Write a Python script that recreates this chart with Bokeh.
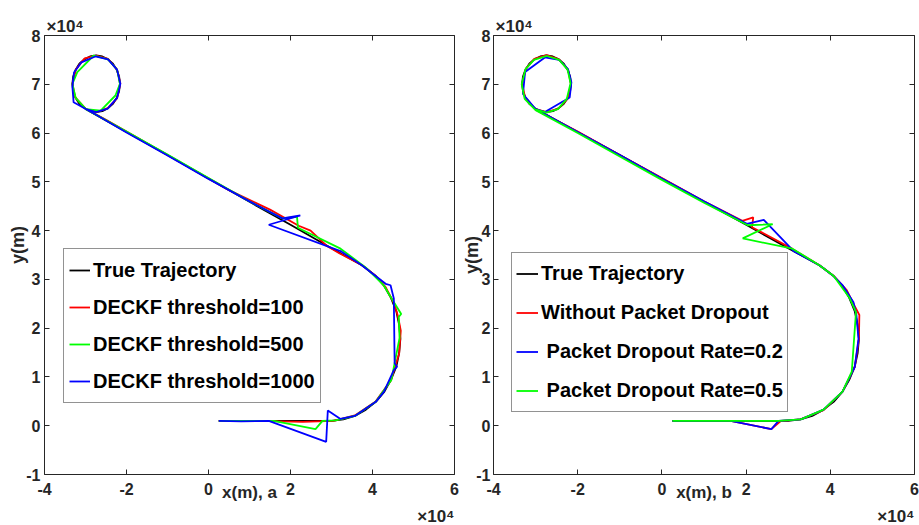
from bokeh.embed import file_html
from bokeh.layouts import row
from bokeh.models import FixedTicker, Legend, LegendItem, LinearAxis, Range1d, Title
from bokeh.plotting import figure
from bokeh.resources import INLINE

# ---------------------------------------------------------------- data (m)
x_ticks = [-40000, -20000, 0, 20000, 40000, 60000]
x_tick_labels = ["-4", "-2", "0", "2", "4", "6"]
y_ticks = [-10000, 0, 10000, 20000, 30000, 40000, 50000, 60000, 70000, 80000]
y_tick_labels = ["-1", "0", "1", "2", "3", "4", "5", "6", "7", "8"]

# true target path: eastbound leg, left turn, north-west leg, closing loop
true_x = [2500, 10000, 20000, 30000, 32900, 35700, 38400, 40800, 42900, 44500,
          45800, 46500, 46800, 46500, 45800, 44500, 42900, 40800, 38400, 37300,
          30000, 20000, 10000, 0, -10000, -20000, -29900,
          -31500, -32400, -33000, -33200, -33000, -32400, -31500, -30300, -28900,
          -27400, -25900, -24500, -23300, -22400, -21800, -21600, -21800, -22400,
          -23300, -24500, -25900, -27400, -28900, -29900]
true_y = [1000, 1000, 1000, 1000, 1300, 2000, 3300, 4900, 7000, 9400,
          12100, 14900, 17800, 20700, 23500, 26200, 28600, 30700, 32300, 32950,
          36400, 41200, 45900, 50700, 55500, 60200, 64900,
          66000, 67200, 68600, 70100, 71600, 73000, 74200, 75100, 75700,
          75900, 75700, 75100, 74200, 73000, 71600, 70100, 68600, 67200,
          66000, 65100, 64500, 64300, 64500, 64900]

# (a) DECKF with event-trigger thresholds
a_t100_x = [2500, 12000, 23000, 30500, 35700, 40700, 44500, 46500, 46900, 46200,
            45300, 43200, 40800, 37500, 32000, 28800, 24900, 22000, 15000, 5000,
            -5000, -15000, -25000, -30000, -32500, -33200, -32300, -30200, -27400,
            -24500, -22300, -21500, -22300, -24600, -27400, -29900]
a_t100_y = [1000, 1000, 800, 1000, 2100, 4900, 9300, 14800, 19500, 22500,
            25000, 28400, 30700, 32900, 35300, 36900, 40000, 41000, 44300, 48300,
            53100, 57900, 62700, 65000, 67300, 70100, 73100, 75300, 75900,
            75200, 73000, 70200, 67100, 65100, 64300, 64900]

a_t500_x = [2500, 15900, 26100, 27800, 31000, 35700, 40800, 44600, 46600, 46400,
            47000, 45600, 44500, 42800, 38400, 32200, 21800, 21600, 18000, 10000,
            0, -10000, -20000, -29900, -32400, -33200, -32000, -28000, -24500,
            -22300, -21600, -22700, -26300, -29900]
a_t500_y = [1000, 1000, -700, 1000, 1100, 2000, 4900, 9400, 18000, 22300,
            22900, 24800, 26300, 28700, 32400, 36300, 40600, 42800, 42500, 46000,
            50800, 55600, 60300, 64900, 67200, 70100, 72500, 75900, 75100,
            73000, 70100, 67700, 64600, 64900]

a_t1000_x = [2500, 8000, 14700, 28700, 29100, 32200, 35700, 40800, 42800, 45200,
             46000, 45400, 45200, 44400, 43200, 40600, 37400, 32200, 14700, 22400,
             18000, 10000, 0, -10000, -20000, -27100, -32900, -33200, -32800,
             -31000, -27600, -24500, -22300, -21500, -22300, -24600, -27400, -29900]
a_t1000_y = [1000, 900, 1000, -3300, 3100, 1400, 2000, 4900, 7000, 11400,
             12100, 12800, 26100, 28800, 29100, 30800, 32900, 35800, 41200, 43100,
             42500, 46000, 50600, 55400, 60100, 63600, 66300, 69500, 72400,
             74500, 75700, 75100, 73000, 70100, 67200, 65000, 64300, 64900]

# (b) DECKF under packet dropout
b_full_x = [2500, 10000, 16300, 26000, 28300, 32900, 38400, 42900, 45800, 46800,
            46900, 45800, 43900, 40800, 37400, 30900, 21400, 21700, 19100, 10000,
            0, -10000, -20000, -30000, -32500, -33200, -32300, -30300, -27400,
            -24400, -22300, -21600, -22400, -24600, -27400, -29900]
b_full_y = [1000, 1000, 1000, -700, 1000, 1300, 3200, 7000, 12000, 17800,
            22700, 24500, 27800, 30700, 32900, 36300, 40700, 42700, 42000, 46000,
            50800, 55500, 60300, 64800, 67300, 70100, 73200, 75200, 76000,
            75100, 73000, 70000, 67000, 65000, 64300, 64900]

b_p02_x = [2500, 10000, 16300, 26000, 27700, 33000, 38400, 42900, 45800, 46700,
           46200, 45500, 43000, 40600, 37400, 31300, 24200, 20200, 10000, 0,
           -10000, -20000, -30000, -33000, -32500, -27800, -24400, -22300, -21500,
           -21900, -27800, -29900]
b_p02_y = [1000, 1000, 1000, -700, 1000, 1300, 3300, 7000, 12000, 17800,
           22700, 25300, 28700, 30800, 32900, 35800, 42200, 41400, 46000, 50700,
           55500, 60200, 64900, 68000, 72500, 75500, 75000, 73100, 70400,
           67300, 64300, 64900]

b_p05_x = [2500, 9000, 16300, 27700, 33000, 38400, 42900, 45100, 46100, 44500,
           40800, 37400, 31000, 19200, 26300, 20400, 10000, 0, -10000, -20000,
           -30000, -32600, -33300, -32400, -30400, -27300, -24400, -22400, -21700,
           -22600, -24700, -27400, -29900]
b_p05_y = [1000, 1000, 1000, 1000, 1300, 3300, 7000, 11100, 23300, 26300,
           30700, 32900, 36300, 38400, 41300, 41100, 45700, 50400, 55200, 60000,
           64700, 67000, 70000, 73100, 75000, 75800, 75000, 73000, 70200,
           67000, 64900, 64200, 64800]

labels_a = ["True Trajectory", "DECKF threshold=100", "DECKF threshold=500",
            "DECKF threshold=1000"]
labels_b = ["True Trajectory", "Without Packet Dropout",
            "\u00a0Packet Dropout Rate=0.2", "\u00a0Packet Dropout Rate=0.5"]

# ---------------------------------------------------------------- styling
FONT = "Liberation Sans"
AX = "#262626"
H = 525
LW = 1.8


def box_axis(ticks):
    # unlabeled axis that only carries inward ticks (top / right edges)
    return LinearAxis(ticker=FixedTicker(ticks=ticks),
                      major_label_overrides={t: "" for t in ticks},
                      major_label_text_font_size="1px", major_label_standoff=0,
                      major_tick_in=5, major_tick_out=0, minor_tick_line_color=None,
                      axis_line_color=AX, major_tick_line_color=AX)


def make_panel(width, left_border, xlabel, ylabel, y_std, ylab_std):
    p = figure(width=width, height=H, output_backend="svg", toolbar_location=None,
               x_range=Range1d(-40000, 60000), y_range=Range1d(-10000, 80000),
               min_border_left=left_border, min_border_right=5,
               min_border_top=35, min_border_bottom=51)
    p.grid.visible = False
    p.outline_line_color = None
    p.background_fill_color = "white"
    p.border_fill_color = "white"

    for ax, ticks, labs in ((p.xaxis[0], x_ticks, x_tick_labels),
                            (p.yaxis[0], y_ticks, y_tick_labels)):
        ax.ticker = FixedTicker(ticks=ticks)
        ax.major_label_overrides = {t: l for t, l in zip(ticks, labs)}
        ax.major_label_text_font = FONT
        ax.major_label_text_font_style = "bold"
        ax.major_label_text_font_size = "16px"
        ax.major_label_text_color = AX
        ax.axis_line_color = AX
        ax.major_tick_line_color = AX
        ax.major_tick_in = 5
        ax.major_tick_out = 0
        ax.minor_tick_line_color = None
        ax.axis_label_text_font = FONT
        ax.axis_label_text_font_style = "bold"
        ax.axis_label_text_color = AX
    p.xaxis.major_label_standoff = 8
    p.yaxis.major_label_standoff = y_std

    p.xaxis.axis_label = xlabel
    p.xaxis.axis_label_text_font_size = "17px"
    p.xaxis.axis_label_standoff = -15
    p.yaxis.axis_label = ylabel
    p.yaxis.axis_label_text_font_size = "18px"
    p.yaxis.axis_label_standoff = ylab_std

    p.add_layout(box_axis(x_ticks), "above")
    p.add_layout(box_axis(y_ticks), "right")

    # x10^4 multipliers above the y axis and below the x axis
    p.add_layout(Title(text="\u00d710\u2074", align="left", offset=2, standoff=0,
                       text_font=FONT, text_font_style="bold", text_font_size="17px",
                       text_color=AX), "above")
    p.add_layout(Title(text="\u00d710\u2074", align="right", offset=0, standoff=0,
                       text_font=FONT, text_font_style="bold", text_font_size="17px",
                       text_color=AX), "below")
    return p


def add_legend(p, renderers, labels, loc, pad, row_h, spacing, glyph_w):
    items = [LegendItem(label=l, renderers=[r]) for l, r in zip(labels, renderers)]
    leg = Legend(items=items, location=loc, margin=0, padding=pad,
                 spacing=spacing, label_height=row_h, glyph_height=row_h,
                 glyph_width=glyph_w, label_standoff=3,
                 label_text_font=FONT, label_text_font_style="bold",
                 label_text_font_size="20px", label_text_color="black",
                 border_line_color=AX, border_line_width=1,
                 background_fill_color="white", background_fill_alpha=1.0)
    p.add_layout(leg)


# ---------------------------------------------------------------- panel (a)
pa = make_panel(459, 44, "x(m), a", "\u00a0\u00a0\u00a0\u00a0y(m)", 4, -5)
ra0 = pa.line(true_x, true_y, line_color="black", line_width=LW)
ra1 = pa.line(a_t100_x, a_t100_y, line_color="#ff0000", line_width=LW)
ra2 = pa.line(a_t500_x, a_t500_y, line_color="#00ff00", line_width=LW)
ra3 = pa.line(a_t1000_x, a_t1000_y, line_color="#0000ff", line_width=LW)
add_legend(pa, [ra0, ra1, ra2, ra3], labels_a, (19, 71), 5, 32, 5, 21)

# ---------------------------------------------------------------- panel (b)
pb = make_panel(460, 33, "x(m), b", "y(m)", 3, -9)
rb0 = pb.line(true_x, true_y, line_color="black", line_width=LW)
rb1 = pb.line(b_full_x, b_full_y, line_color="#ff0000", line_width=LW)
rb2 = pb.line(b_p02_x, b_p02_y, line_color="#0000ff", line_width=LW)
rb3 = pb.line(b_p05_x, b_p05_y, line_color="#00ff00", line_width=LW)
add_legend(pb, [rb0, rb1, rb2, rb3], labels_b, (18, 62), 4, 33, 6, 22)

layout = row(pa, pb, spacing=0)
open("out.html", "w").write(file_html(layout, INLINE))
